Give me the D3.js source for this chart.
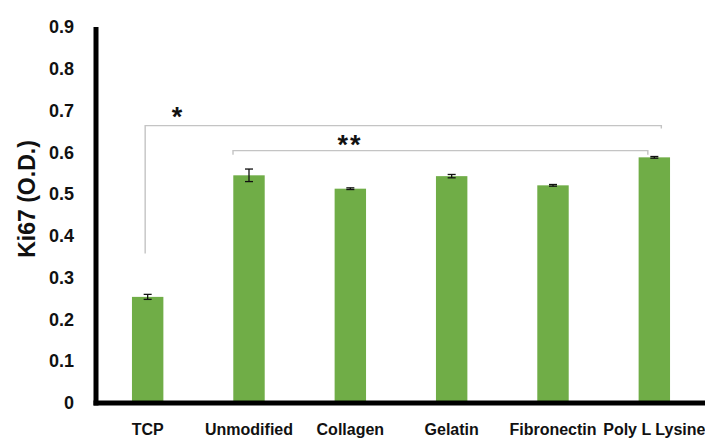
<!DOCTYPE html>
<html>
<head>
<meta charset="utf-8">
<script src="https://cdn.jsdelivr.net/npm/d3@7"></script>
<style>
  html, body { margin: 0; padding: 0; background: #fff; }
  svg { display: block; }
</style>
</head>
<body>
<svg id="chart" width="705" height="441"></svg>
<script>
// Ki67 optical density per culture surface
const categories = ["TCP", "Unmodified", "Collagen", "Gelatin", "Fibronectin", "Poly L Lysine"];
const values = [0.254, 0.545, 0.513, 0.543, 0.521, 0.588];
const errors = [0.006, 0.015, 0.002, 0.004, 0.002, 0.002];
const yTicks = [0, 0.1, 0.2, 0.3, 0.4, 0.5, 0.6, 0.7, 0.8, 0.9];
const yTitle = "Ki67 (O.D.)";
// significance brackets: from / to category, bar level, leg ends
const brackets = [
  { from: "TCP", to: "Poly L Lysine", level: 0.664, leftEnd: 0.358, rightEnd: 0.657, label: "*" },
  { from: "Unmodified", to: "Poly L Lysine", level: 0.604, leftEnd: 0.594, rightEnd: 0.594, label: "**" }
];

const svg = d3.select("#chart");
const x = d3.scaleBand().domain(categories).range([97, 705]).paddingInner(0.69).paddingOuter(0.345);
const y = d3.scaleLinear().domain([0, 0.9]).range([403, 27]);

const font = "'Liberation Sans', Arial, sans-serif";
const green = "#70ad47";

// bars
svg.append("g").selectAll("rect").data(categories).join("rect")
  .attr("x", d => x(d))
  .attr("width", x.bandwidth())
  .attr("y", (d, i) => y(values[i]))
  .attr("height", (d, i) => y(0) - y(values[i]))
  .attr("fill", green);

// error bars
const eb = svg.append("g").attr("stroke", "#111").attr("stroke-width", 1.3);
categories.forEach((c, i) => {
  const cx = x(c) + x.bandwidth() / 2;
  const y1 = y(values[i] + errors[i]), y2 = y(values[i] - errors[i]);
  eb.append("line").attr("x1", cx).attr("x2", cx).attr("y1", y1).attr("y2", y2);
  eb.append("line").attr("x1", cx - 4).attr("x2", cx + 4).attr("y1", y1).attr("y2", y1);
  eb.append("line").attr("x1", cx - 4).attr("x2", cx + 4).attr("y1", y2).attr("y2", y2);
});

// significance brackets
const bg = svg.append("g");
const bx = c => x(c) + x.bandwidth() / 2;
[
  { b: brackets[0], dl: -2.5, dr: 7, lx: 177, ly: 0 },
  { b: brackets[1], dl: -16, dr: -6.5, lx: 350, ly: 3 }
].forEach(o => {
  const b = o.b;
  const xl = bx(b.from) + o.dl, xr = bx(b.to) + o.dr;
  bg.append("path")
    .attr("d", `M${xl},${y(b.leftEnd)}V${y(b.level)}H${xr}V${y(b.rightEnd)}`)
    .attr("fill", "none").attr("stroke", "#c4c4c4").attr("stroke-width", 1.4);
  bg.append("text")
    .attr("x", o.lx).attr("y", y(b.level) + o.ly)
    .attr("text-anchor", "middle")
    .attr("font-family", font).attr("font-size", 27).attr("font-weight", "bold")
    .attr("letter-spacing", b.label.length > 1 ? 2 : 0)
    .attr("fill", "#111")
    .text(b.label);
});

// y axis
const yAxis = d3.axisLeft(y).tickValues(yTicks).tickSize(0).tickPadding(22)
  .tickFormat(d => d === 0 ? "0" : d3.format(".1f")(d));
const gy = svg.append("g").attr("transform", "translate(96,0)").call(yAxis);
gy.select(".domain").remove();
gy.selectAll("text").attr("font-family", font).attr("font-size", 18).attr("font-weight", "bold").attr("fill", "#111");
svg.append("line").attr("x1", 96).attr("x2", 96).attr("y1", y(0.9)).attr("y2", y(0) + 2.5)
  .attr("stroke", "#000").attr("stroke-width", 5);

// x axis
const xAxis = d3.axisBottom(x).tickSize(0).tickPadding(21);
const gx = svg.append("g").attr("transform", `translate(0,${y(0)})`).call(xAxis);
gx.select(".domain").remove();
gx.selectAll("text").attr("font-family", font).attr("font-size", 16).attr("font-weight", "bold").attr("fill", "#111");
svg.append("line").attr("x1", 93.5).attr("x2", 705).attr("y1", y(0)).attr("y2", y(0))
  .attr("stroke", "#000").attr("stroke-width", 5);

// y title
svg.append("text")
  .attr("transform", "translate(35,199) rotate(-90)")
  .attr("text-anchor", "middle")
  .attr("font-family", font).attr("font-size", 23).attr("font-weight", "bold")
  .attr("fill", "#111")
  .text(yTitle);
</script>
</body>
</html>
